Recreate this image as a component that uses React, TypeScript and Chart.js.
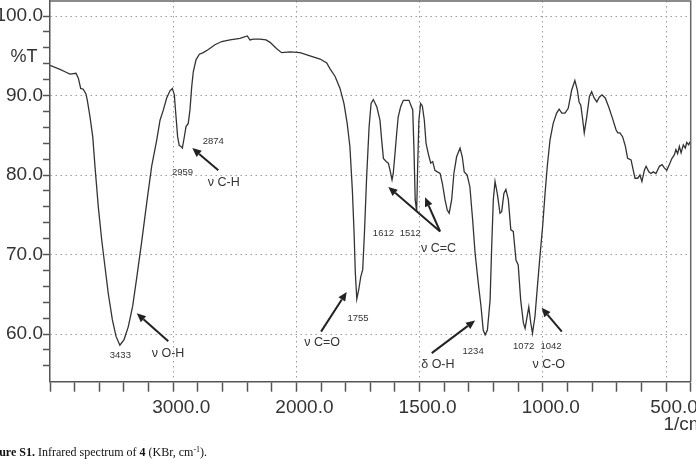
import React, { useEffect, useRef } from 'react';
import { Chart, LinearScale, registerables } from 'chart.js';

Chart.register(...registerables);

// ---------------- data (wavenumber in cm-1, transmittance in %T) ----------------
const wavenumbers = [
  4000, 3919, 3878, 3838, 3789, 3770, 3751, 3730, 3708, 3697, 3675, 3653, 3635, 3608, 3580, 3554, 3527, 3494, 3464, 3433,
  3399, 3365, 3329, 3296, 3256, 3215, 3175, 3134, 3107, 3080, 3053, 3026, 3007, 2991, 2977, 2964, 2951, 2937, 2926, 2912,
  2896, 2878, 2864, 2850, 2837, 2815, 2788, 2756, 2715, 2661, 2606, 2539, 2458, 2399, 2377, 2350, 2296, 2247, 2214, 2160,
  2120, 2052, 1985, 1945, 1904, 1877, 1864, 1843, 1823, 1807, 1794, 1783, 1773, 1766, 1761, 1755, 1747, 1739, 1731, 1724,
  1715, 1705, 1697, 1688, 1674, 1661, 1654, 1647, 1636, 1627, 1620, 1612, 1607, 1600, 1593, 1587, 1577, 1566, 1552, 1543,
  1536, 1528, 1523, 1518, 1512, 1508, 1503, 1496, 1489, 1481, 1474, 1465, 1455, 1447, 1438, 1428, 1417, 1408, 1397, 1388,
  1380, 1370, 1361, 1350, 1336, 1327, 1319, 1307, 1296, 1285, 1275, 1262, 1251, 1242, 1234, 1225, 1214, 1208, 1201, 1194,
  1185, 1174, 1167, 1158, 1150, 1140, 1130, 1120, 1109, 1100, 1090, 1079, 1072, 1066, 1057, 1049, 1042, 1032, 1022, 1012,
  1001, 991, 982, 971, 958, 944, 934, 923, 910, 897, 883, 870, 860, 853, 846, 838, 832, 822, 811, 802,
  792, 781, 771, 760, 747, 733, 717, 703, 696, 687, 676, 665, 656, 642, 633, 626, 615, 606, 598, 588,
  581, 570, 561, 552, 541, 527, 516, 507, 497, 487, 476, 467, 460, 453, 446, 439, 430, 422, 416, 408,
  403,
];
const transmittance = [
  93.8, 93.3, 93.0, 92.7, 92.8, 92.2, 90.9, 90.8, 90.2, 89.4, 87.3, 84.8, 81.1, 76.0, 71.8, 68.5, 65.1, 61.8, 59.7, 58.6,
  59.3, 60.9, 63.5, 67.1, 71.6, 76.5, 81.1, 84.4, 86.9, 88.2, 89.7, 90.6, 90.9, 90.1, 87.3, 84.8, 83.7, 83.6, 83.4, 84.6,
  86.1, 86.5, 88.2, 91.1, 93.0, 94.5, 95.2, 95.4, 95.8, 96.4, 96.8, 97.0, 97.2, 97.5, 97.0, 97.1, 97.1, 97.0, 96.7, 95.9,
  95.4, 95.5, 95.4, 95.0, 94.6, 94.1, 93.4, 92.4, 90.9, 89.0, 86.5, 83.6, 78.1, 72.7, 67.7, 64.4, 65.6, 67.2, 68.1, 72.7,
  79.8, 86.1, 89.0, 89.5, 88.6, 86.9, 84.4, 82.1, 81.7, 81.5, 80.6, 79.4, 80.2, 82.7, 85.3, 87.3, 88.6, 89.4, 89.4, 89.4,
  88.8, 88.2, 83.2, 76.9, 75.4, 81.1, 86.9, 89.0, 88.7, 86.9, 84.0, 82.7, 81.5, 81.7, 80.6, 80.4, 80.2, 79.0, 76.9, 75.6,
  75.2, 76.9, 80.2, 82.3, 83.4, 82.3, 80.4, 80.0, 78.5, 74.4, 70.2, 66.4, 63.5, 60.5, 59.9, 60.5, 64.3, 70.6, 76.9, 79.2,
  77.7, 75.2, 75.4, 77.7, 78.2, 76.9, 73.1, 72.9, 69.3, 68.7, 64.3, 61.4, 60.7, 61.8, 63.4, 61.4, 60.1, 62.2, 66.0, 69.7,
  73.5, 77.7, 81.1, 84.4, 86.5, 87.8, 88.3, 87.8, 87.8, 88.4, 90.7, 91.9, 90.7, 89.2, 88.8, 86.9, 85.3, 87.3, 89.9, 90.5,
  89.7, 89.2, 89.8, 90.1, 89.7, 88.6, 87.1, 85.7, 85.3, 85.3, 84.8, 83.6, 82.1, 81.9, 80.6, 79.6, 79.6, 80.0, 79.2, 80.6,
  81.1, 80.4, 80.2, 80.4, 80.2, 81.1, 81.3, 80.9, 80.6, 81.3, 82.1, 82.5, 83.2, 82.7, 83.6, 82.8, 83.8, 83.4, 84.1, 83.8,
  84.2,
];

// tick values
const xTickValues = [4000, 3800, 3600, 3400, 3200, 3000, 2800, 2600, 2400, 2200, 2000, 1900, 1800, 1700, 1600, 1500, 1400,
  1300, 1200, 1100, 1000, 900, 800, 700, 600, 500, 400];
const xLabelTicks = [3000, 2000, 1500, 1000, 500];
const yTickValues = [56, 58, 60, 62, 64, 66, 68, 70, 72, 74, 76, 78, 80, 82, 84, 86, 88, 90, 92, 94, 96, 98, 100];
const yLabelTicks = [60, 70, 80, 90, 100];

// peak labels (text, wavenumber position, %T position)
const peakTexts = ['3433', '2959', '2874', '1755', '1612', '1512', '1234', '1072', '1042'];
const peakTextW = [3429, 2925, 2675, 1750, 1647, 1538, 1283, 1078, 967];
const peakTextT = [57.3, 80.4, 84.3, 62.0, 72.7, 72.7, 57.8, 58.5, 58.5];

// band assignment labels
const bandTexts = ['ν O-H', 'ν C-H', 'ν C=O', 'ν C=C', 'δ O-H', 'ν C-O'];
const bandTextW = [3042, 2590, 1896, 1423, 1426, 976];
const bandTextT = [57.5, 79.1, 58.9, 70.8, 56.1, 56.2];

// arrows: tail (w,T) -> head (w,T)
const arrowTailW = [3040, 2634, 1900, 1417, 1417, 1451, 923];
const arrowTailT = [59.1, 80.6, 60.3, 72.9, 72.9, 57.6, 60.3];
const arrowHeadW = [3296, 2845, 1796, 1627, 1478, 1275, 1005];
const arrowHeadT = [62.6, 83.4, 65.3, 78.5, 77.2, 61.7, 63.3];

// ---------------- IR wavenumber axis (scale doubles below 2000 cm-1) ----------------
const W_HIGH = 4000;
const W_BREAK = 2000;
const W_LOW = 400;
const U_BREAK = (W_HIGH - W_BREAK) / 2;
const toU = (w: number) => (w >= W_BREAK ? (W_HIGH - w) / 2 : U_BREAK + (W_BREAK - w));
const fromU = (u: number) => (u <= U_BREAK ? W_HIGH - 2 * u : W_BREAK - (u - U_BREAK));
const U_SPAN = toU(W_LOW);

class WavenumberScale extends LinearScale {
  static id = 'wavenumber';
  static defaults = {};
  getPixelForValue(value: any) {
    if (value === null || value === undefined || Number.isNaN(value)) return NaN;
    return this.getPixelForDecimal(toU(value) / U_SPAN);
  }
  getValueForPixel(pixel: number) {
    return fromU(this.getDecimalForPixel(pixel) * U_SPAN);
  }
}
Chart.register(WavenumberScale as any);

const TEXT = '#333333';
const AXIS = '#555555';
const GRID = '#9a9a9a';
const SANS = '"Liberation Sans", Arial, sans-serif';

const irPlugin = {
  id: 'irAnnotations',
  afterDraw(chart: any) {
    const { ctx, chartArea: a } = chart;
    const xs = chart.scales.x;
    const ys = chart.scales.y;
    ctx.save();
    // frame top and right
    ctx.strokeStyle = '#666666';
    ctx.lineWidth = 1.5;
    ctx.beginPath();
    ctx.moveTo(a.left, a.top);
    ctx.lineTo(a.right, a.top);
    ctx.lineTo(a.right, a.bottom);
    ctx.stroke();

    ctx.fillStyle = TEXT;
    ctx.textAlign = 'center';
    ctx.textBaseline = 'middle';
    ctx.font = '9.5px ' + SANS;
    peakTexts.forEach((t, i) => {
      ctx.fillText(t, xs.getPixelForValue(peakTextW[i]), ys.getPixelForValue(peakTextT[i]));
    });
    ctx.font = '12.5px ' + SANS;
    bandTexts.forEach((t, i) => {
      ctx.fillText(t, xs.getPixelForValue(bandTextW[i]), ys.getPixelForValue(bandTextT[i]));
    });

    // arrows
    ctx.strokeStyle = '#222222';
    ctx.fillStyle = '#222222';
    ctx.lineWidth = 2;
    arrowTailW.forEach((_, i) => {
      const x1 = xs.getPixelForValue(arrowTailW[i]);
      const y1 = ys.getPixelForValue(arrowTailT[i]);
      const x2 = xs.getPixelForValue(arrowHeadW[i]);
      const y2 = ys.getPixelForValue(arrowHeadT[i]);
      const ang = Math.atan2(y2 - y1, x2 - x1);
      const len = 9;
      const hw = 4;
      const bx = x2 - len * Math.cos(ang);
      const by = y2 - len * Math.sin(ang);
      ctx.beginPath();
      ctx.moveTo(x1, y1);
      ctx.lineTo(bx, by);
      ctx.stroke();
      ctx.beginPath();
      ctx.moveTo(x2, y2);
      ctx.lineTo(bx + hw * Math.sin(ang), by - hw * Math.cos(ang));
      ctx.lineTo(bx - hw * Math.sin(ang), by + hw * Math.cos(ang));
      ctx.closePath();
      ctx.fill();
    });

    // axis titles
    ctx.fillStyle = TEXT;
    ctx.font = '18px ' + SANS;
    ctx.textAlign = 'center';
    ctx.fillText('%T', a.left - 26, ys.getPixelForValue(94.9));
    ctx.font = '19px ' + SANS;
    ctx.textAlign = 'left';
    ctx.fillText('1/cm', xs.getPixelForValue(500) - 2.6, a.bottom + 43.5);
    ctx.restore();
  },
};

export default function App() {
  const canvasRef = useRef<HTMLCanvasElement | null>(null);

  useEffect(() => {
    if (!canvasRef.current) return;
    const chart = new Chart(canvasRef.current, {
      type: 'line',
      data: {
        datasets: [
          {
            data: wavenumbers.map((w, i) => ({ x: w, y: transmittance[i] })),
            borderColor: '#333333',
            borderWidth: 1.3,
            pointRadius: 0,
            tension: 0,
            fill: false,
          },
        ],
      },
      options: {
        animation: false,
        responsive: false,
        devicePixelRatio: 1,
        layout: { padding: { top: 1, right: 5.3, left: 0, bottom: 0 } },
        plugins: { legend: { display: false }, tooltip: { enabled: false } },
        scales: {
          x: {
            type: 'wavenumber' as any,
            min: W_LOW,
            max: W_HIGH,
            afterBuildTicks: (s: any) => {
              s.ticks = xTickValues.map((v) => ({ value: v }));
            },
            afterFit: (s: any) => {
              s.height = 77.3;
              s.paddingLeft = 0;
              s.paddingRight = 0;
            },
            grid: {
              color: (c: any) => (c.tick && xLabelTicks.includes(c.tick.value) ? GRID : 'rgba(0,0,0,0)'),
              lineWidth: 1,
              tickLength: 10,
              tickColor: AXIS,
              tickWidth: 1.5,
            },
            border: { color: AXIS, width: 1.5, dash: [1.5, 3.5] },
            ticks: {
              autoSkip: false,
              maxRotation: 0,
              minRotation: 0,
              labelOffset: 8,
              padding: 5,
              color: TEXT,
              font: { family: SANS, size: 19 },
              callback: (v: any) => (xLabelTicks.includes(v) ? Number(v).toFixed(1) : ''),
            },
          } as any,
          y: {
            type: 'linear',
            min: 54,
            max: 101.9,
            afterBuildTicks: (s: any) => {
              s.ticks = yTickValues.map((v) => ({ value: v }));
            },
            afterFit: (s: any) => {
              s.width = 50;
              s.paddingTop = 0;
              s.paddingBottom = 0;
            },
            grid: {
              color: (c: any) => (c.tick && yLabelTicks.includes(c.tick.value) ? GRID : 'rgba(0,0,0,0)'),
              lineWidth: 1,
              tickLength: 7,
              tickColor: AXIS,
              tickWidth: 1.5,
            },
            border: { color: AXIS, width: 1.5, dash: [1.5, 3.5] },
            ticks: {
              autoSkip: false,
              padding: 0,
              color: TEXT,
              font: { family: SANS, size: 19 },
              callback: (v: any) => (yLabelTicks.includes(v) ? Number(v).toFixed(1) : ''),
            },
          } as any,
        },
      },
      plugins: [irPlugin],
    });
    return () => chart.destroy();
  }, []);

  return (
    <div style={{ position: 'absolute', left: 0, top: 0, width: 696, height: 459, overflow: 'hidden', background: '#fff' }}>
      <canvas ref={canvasRef} width={696} height={459} style={{ width: 696, height: 459, display: 'block' }} />
      <div
        style={{
          position: 'absolute',
          left: -17.5,
          top: 445.5,
          whiteSpace: 'nowrap',
          font: '12px "Liberation Serif", "Times New Roman", serif',
          lineHeight: '13px',
          color: '#111',
        }}
      >
        <b>Figure S1.</b> Infrared spectrum of <b>4</b> (KBr, cm
        <span style={{ fontSize: 8, position: 'relative', top: -4 }}>-1</span>).
      </div>
    </div>
  );
}
